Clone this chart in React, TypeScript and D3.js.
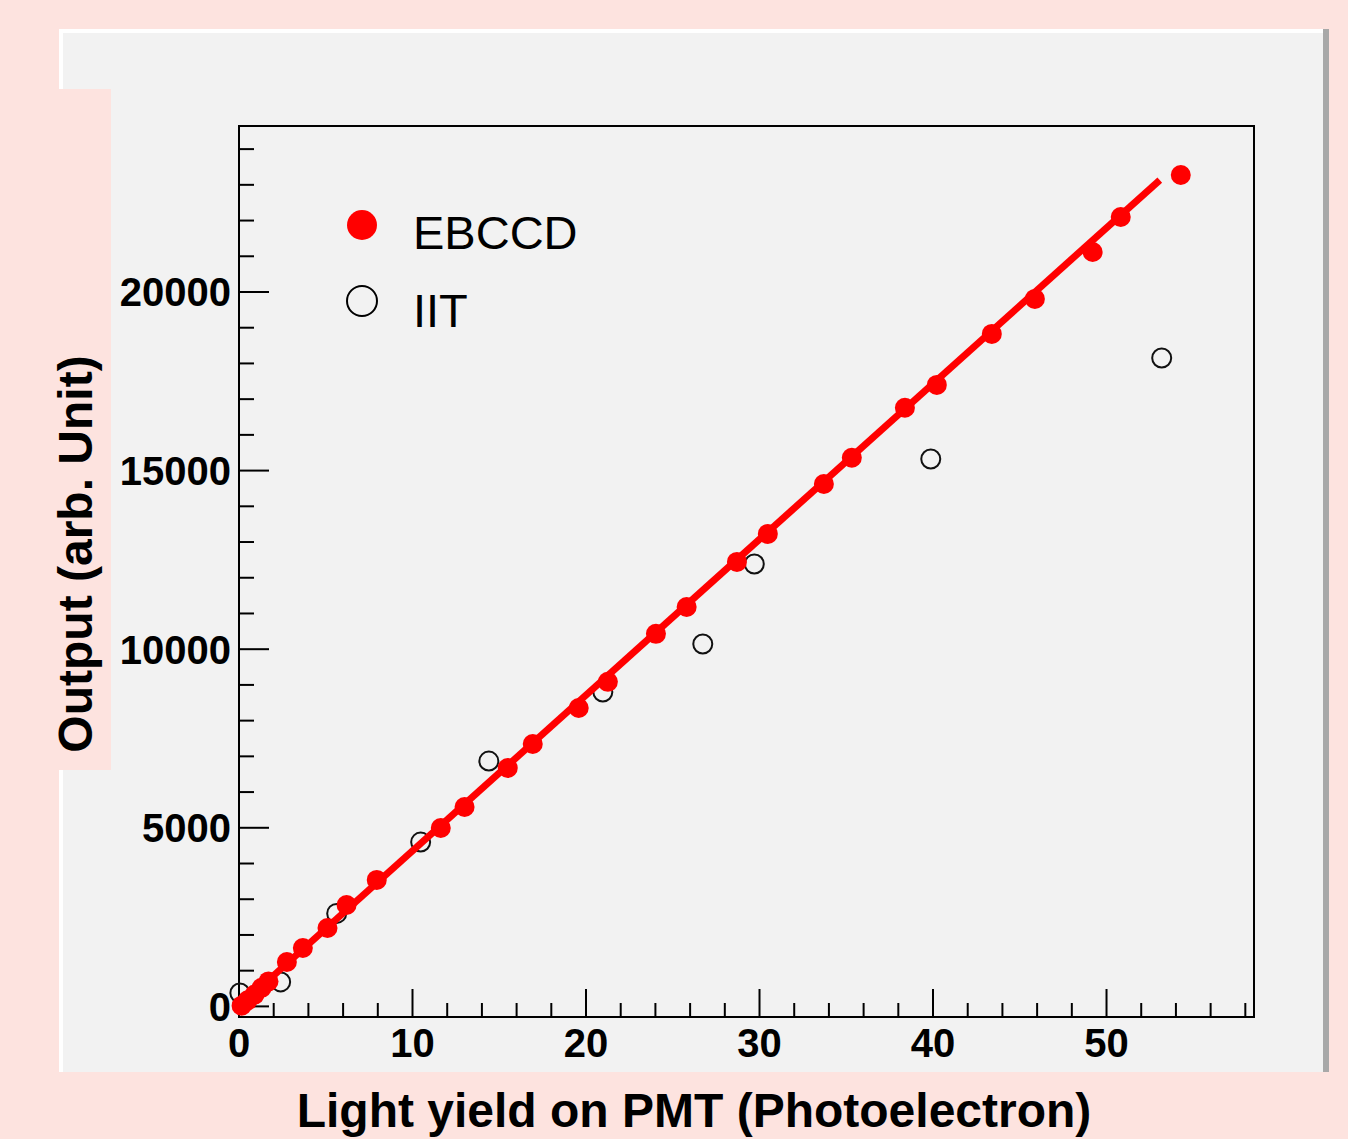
import React from "react";
import * as d3 from "d3";

const ebccdX = [0.15, 0.5, 0.9, 1.3, 1.7, 2.76, 3.68, 5.1, 6.2, 7.94, 11.63, 13.0, 15.49, 16.93, 19.58, 21.26, 24.03, 25.8, 28.7, 30.48, 33.71, 35.32, 38.38, 40.22, 43.39, 45.87, 49.2, 50.82, 54.28];
const ebccdY = [20, 170, 330, 520, 700, 1244, 1636, 2196, 2840, 3540, 4995, 5583, 6675, 7347, 8354, 9085, 10430, 11180, 12444, 13227, 14625, 15358, 16758, 17399, 18827, 19807, 21120, 22100, 23276];
const iitX = [0.05, 2.4, 5.63, 10.47, 14.4, 20.97, 26.73, 29.7, 39.87, 53.18];
const iitY = [375, 685, 2604, 4600, 6867, 8800, 10146, 12385, 15325, 18152];
const fitRange = [0, 53.07];
const fitSlope = 436;
const fitIntercept = -5;
const xTickLabels = [0, 10, 20, 30, 40, 50];
const yTickLabels = [0, 5000, 10000, 15000, 20000];

const FONT = "'Liberation Sans', Arial, Helvetica, sans-serif";

export default function App() {
  const left = 239, right = 1254, top = 126, bottom = 1017;
  const x = d3.scaleLinear().domain([0, 58.5]).range([left, right]);
  const y = d3.scaleLinear().domain([-297, 24647]).range([bottom, top]);

  const xMinor = d3.range(0, 58.5, 2);
  const yMinor = d3.range(0, 24647, 1000);

  const fitLine = d3.line<number>()
    .x((v) => x(v))
    .y((v) => y(fitSlope * v + fitIntercept));

  const ebccd = ebccdX.map((v, i) => ({ x: v, y: ebccdY[i] }));
  const iit = iitX.map((v, i) => ({ x: v, y: iitY[i] }));

  return (
    <svg width={1348} height={1139} style={{ position: "absolute", left: 0, top: 0 }}>
      <rect x={0} y={0} width={1348} height={1139} fill="#fde3df" />
      {/* panel */}
      <rect x={59} y={29} width={1270} height={1043} fill="#f2f2f2" />
      <rect x={59} y={29} width={1264} height={4} fill="#ffffff" />
      <rect x={59} y={29} width={4} height={1043} fill="#ffffff" />
      <rect x={1323} y={29} width={6} height={1043} fill="#a8a8a8" />
      {/* pink patch behind y title */}
      <rect x={0} y={89} width={111} height={681} fill="#fde3df" />

      {/* ticks */}
      {xMinor.map((v) => {
        const major = v % 10 === 0;
        return (
          <line key={"xt" + v} x1={x(v)} x2={x(v)} y1={bottom} y2={bottom - (major ? 28 : 14)} stroke="#000" strokeWidth={2} />
        );
      })}
      {yMinor.map((v) => {
        const major = v % 5000 === 0;
        return (
          <line key={"yt" + v} x1={left} x2={left + (major ? 30 : 15)} y1={y(v)} y2={y(v)} stroke="#000" strokeWidth={2} />
        );
      })}

      {/* frame */}
      <rect x={left} y={top} width={right - left} height={bottom - top} fill="none" stroke="#000" strokeWidth={2} />

      {/* tick labels */}
      {xTickLabels.map((v) => (
        <text key={"xl" + v} x={x(v)} y={1057} textAnchor="middle" fontFamily={FONT} fontWeight="bold" fontSize={40} fill="#000">
          {v}
        </text>
      ))}
      {yTickLabels.map((v) => (
        <text key={"yl" + v} x={231} y={y(v)} dy="0.36em" textAnchor="end" fontFamily={FONT} fontWeight="bold" fontSize={40} fill="#000">
          {v}
        </text>
      ))}

      {/* IIT open circles */}
      {iit.map((d, i) => (
        <circle key={"iit" + i} cx={x(d.x)} cy={y(d.y)} r={9.5} fill="none" stroke="#111" strokeWidth={2} />
      ))}

      {/* fit line */}
      <path d={fitLine(fitRange) || ""} fill="none" stroke="#ff0000" strokeWidth={7} />

      {/* EBCCD filled */}
      {ebccd.map((d, i) => (
        <circle key={"eb" + i} cx={x(d.x)} cy={y(d.y)} r={10} fill="#ff0000" />
      ))}

      {/* legend */}
      <circle cx={362} cy={225} r={15} fill="#ff0000" />
      <circle cx={362} cy={301} r={15} fill="none" stroke="#000" strokeWidth={2} />
      <text x={413} y={249} fontFamily={FONT} fontSize={47} fill="#000">EBCCD</text>
      <text x={413} y={327} fontFamily={FONT} fontSize={47} fill="#000">IIT</text>

      {/* axis titles */}
      <text x={694} y={1127} textAnchor="middle" fontFamily={FONT} fontWeight="bold" fontSize={48} fill="#000">
        Light yield on PMT (Photoelectron)
      </text>
      <text transform="translate(92,554) rotate(-90)" textAnchor="middle" fontFamily={FONT} fontWeight="bold" fontSize={48} fill="#000">
        Output (arb. Unit)
      </text>
    </svg>
  );
}
